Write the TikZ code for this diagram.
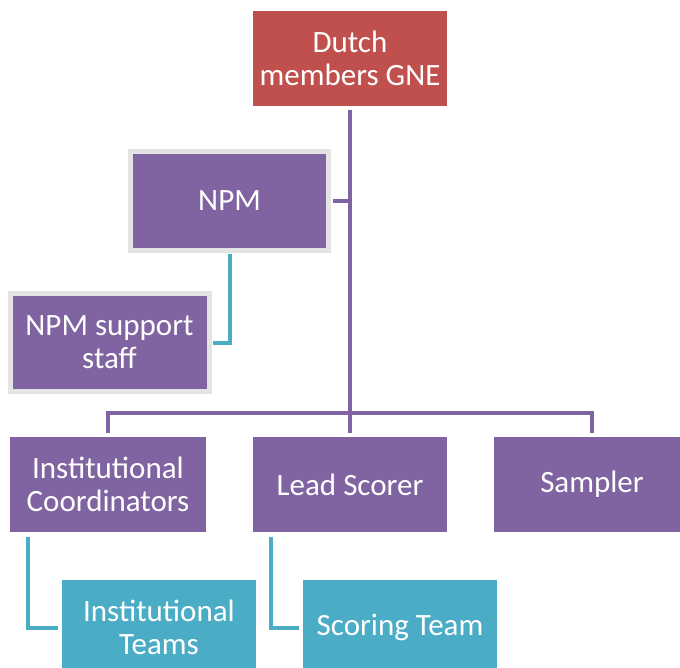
\documentclass[tikz,border=0pt]{standalone}
\usepackage{fontspec}
\setmainfont{Carlito}
\definecolor{ored}{HTML}{C0504D}
\definecolor{opurple}{HTML}{8064A2}
\definecolor{ocyan}{HTML}{4BACC6}
\definecolor{oframe}{HTML}{E4E4E4}
\begin{document}
\begin{tikzpicture}[x=1pt,y=-1pt,
  box/.style={rectangle, fill=opurple, text=white, align=center, inner sep=0pt,
    minimum width=194pt, minimum height=95pt, outer sep=4pt,
    font=\fontsize{31}{33}\selectfont},
  framedbox/.style={box, draw=oframe, line width=5pt, outer sep=4pt},
  redbox/.style={box, fill=ored},
  cyanbox/.style={box, fill=ocyan},
  purpleline/.style={draw=opurple, line width=4pt},
  cyanline/.style={draw=ocyan, line width=4pt},
]
\useasboundingbox (0,0) rectangle (680,668);
% nodes
\node[redbox] (dutch) at (350,58.5) {Dutch\\members GNE};
\node[framedbox, minimum width=198pt, minimum height=99pt] (npm) at (229.5,201) {NPM};
\node[framedbox, minimum width=199pt, minimum height=98.5pt] (support) at (109.5,342.5) {NPM support\\staff};
\node[box, minimum width=196pt] (ic) at (108,484.5) {Institutional\\Coordinators};
\node[box] (lead) at (350,484.5) {Lead Scorer};
\node[box, minimum width=196pt] (sampler) at (592,484.5) {Sampler};
\node[cyanbox] (iteams) at (159,627.5) {Institutional\\Teams};
\node[cyanbox] (scoring) at (400,627.5) {Scoring Team};
% helper coordinates
\coordinate (bar) at (350,413);
\coordinate (icdrop) at (28,537);
\coordinate (leaddrop) at (271,537);
% connectors
\draw[purpleline] (dutch.south) -- (lead.north);
\draw[purpleline] (npm.east) -- (npm.east -| dutch.south);
\draw[purpleline, line join=miter] (ic.north) -- (ic.north |- bar) -- (sampler.north |- bar) -- (sampler.north);
\draw[cyanline, line join=miter] (npm.south) |- (support.east);
\draw[cyanline, line join=miter] (icdrop) |- (iteams.west);
\draw[cyanline, line join=miter] (leaddrop) |- (scoring.west);
\end{tikzpicture}
\end{document}
